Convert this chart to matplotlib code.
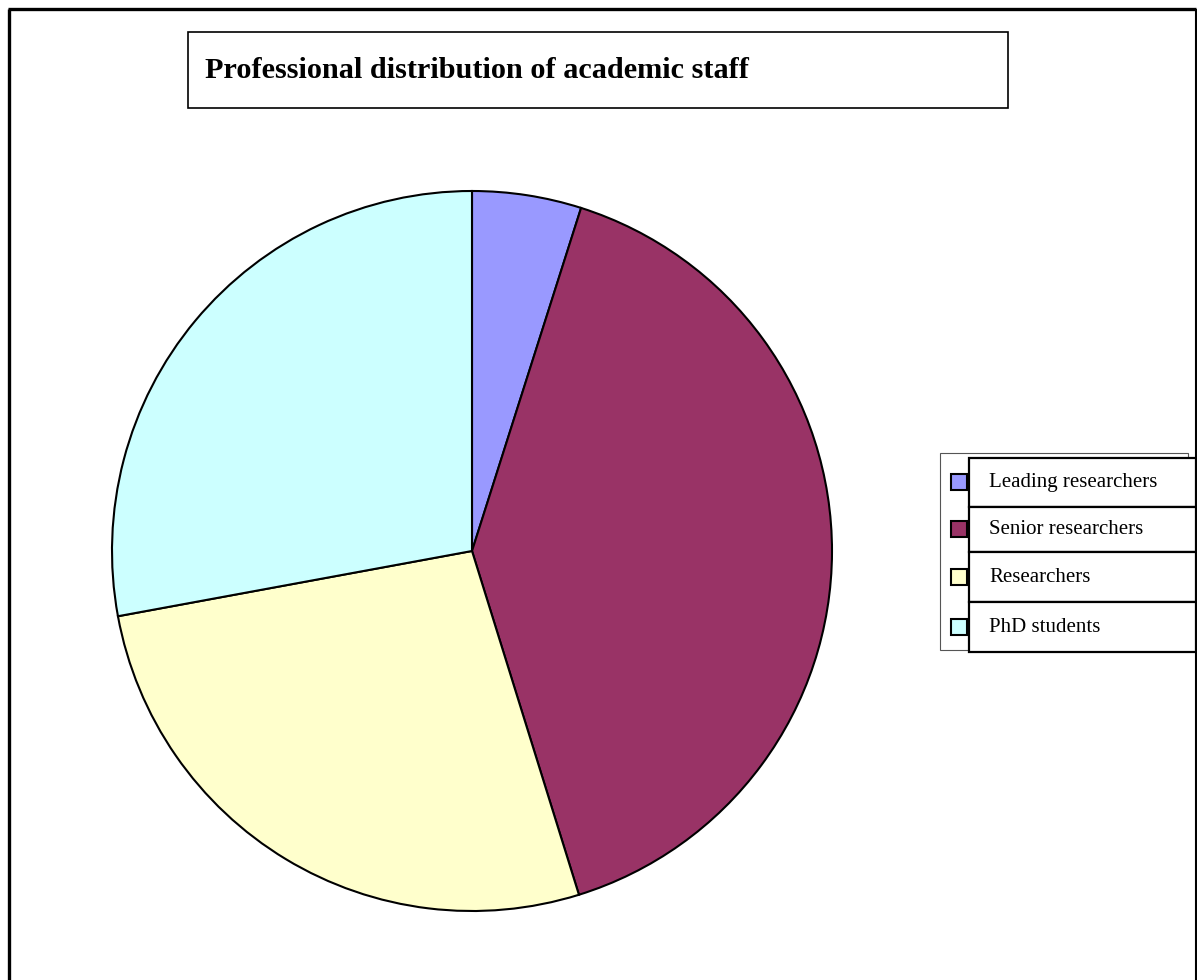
import matplotlib
matplotlib.use("Agg")
import matplotlib.pyplot as plt
from matplotlib.patches import Rectangle

# data
labels = ["Leading researchers", "Senior researchers", "Researchers", "PhD students"]
values = [4.9, 40.3, 26.9, 27.9]
colors = ["#9999FF", "#993366", "#FFFFCC", "#CCFFFF"]
title = "Professional distribution of academic staff"

W, H = 1197, 980
fig = plt.figure(figsize=(W / 100, H / 100), dpi=100)
ax = fig.add_axes([0, 0, 1, 1])

def fy(y):
    # pixel row (from top) -> axes y
    return H - y

serif = ["Liberation Serif", "DejaVu Serif"]

# pie
ax.pie(values, colors=colors, startangle=90, counterclock=False,
       center=(472, fy(551)), radius=360, frame=True,
       wedgeprops=dict(edgecolor="black", linewidth=1.5))
ax.set_xlim(0, W)
ax.set_ylim(0, H)
ax.set_aspect("equal")
ax.axis("off")

# outer frame (left, top, right)
ax.plot([9, 9], [fy(9), fy(H + 5)], color="black", lw=2.4, solid_capstyle="butt")
ax.plot([8, 1195.5], [fy(9), fy(9)], color="black", lw=2.4, solid_capstyle="butt")
ax.plot([1195.5, 1195.5], [fy(9), fy(H + 5)], color="black", lw=1.5, solid_capstyle="butt")

# title box
ax.add_patch(Rectangle((188, fy(108)), 820, 76, fill=False, ec="black", lw=1.2))
ax.text(205, fy(71), title, fontsize=21.8, fontweight="bold", family=serif,
        ha="left", va="center")

# legend
ax.add_patch(Rectangle((940, fy(650)), 248, 197, fill=False, ec="#555555", lw=0.8))
row_top = [458, 507, 552, 602]
row_bot = [507, 552, 602, 652]
for i, lab in enumerate(labels):
    yc = (row_top[i] + row_bot[i]) / 2
    ax.add_patch(Rectangle((951, fy(yc + 8)), 16, 16, fc=colors[i], ec="black",
                           lw=1.5, zorder=3))
    ax.add_patch(Rectangle((969, fy(row_bot[i])), 227, row_bot[i] - row_top[i],
                           fc="white", ec="black", lw=1.6, zorder=4))
    ax.text(989, fy(yc), lab, fontsize=15, family=serif, ha="left",
            va="center", zorder=5)

fig.savefig("out.png", dpi=100)
